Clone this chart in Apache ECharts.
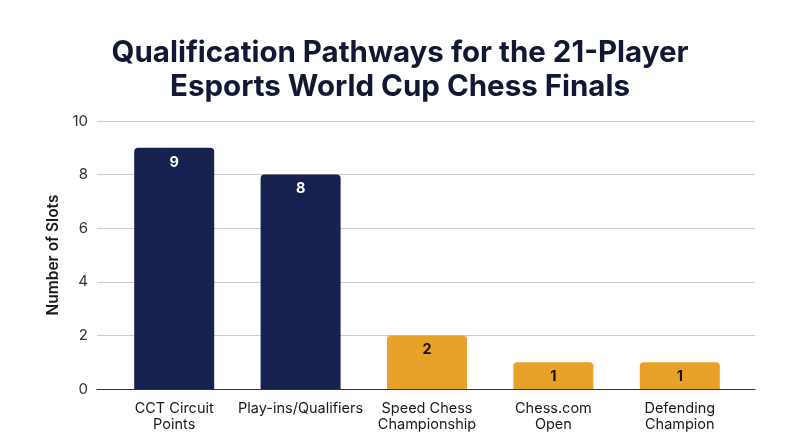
<!DOCTYPE html>
<html><head><meta charset="utf-8">
<script src="https://cdn.jsdelivr.net/npm/echarts@6/dist/echarts.min.js"></script>
<style>html,body{margin:0;padding:0;background:#fff}#c{width:800px;height:447px}</style>
</head><body><div id="c"></div>
<script>
const categories = ["CCT Circuit\nPoints", "Play-ins/Qualifiers", "Speed Chess\nChampionship", "Chess.com\nOpen", "Defending\nChampion"];
const slots = [9, 8, 2, 1, 1];
const pathwayGroup = ["main", "main", "minor", "minor", "minor"];
const yTicks = [0, 2, 4, 6, 8, 10];
const titleText = "Qualification Pathways for the 21-Player\nEsports World Cup Chess Finals";
const yName = "Number of Slots";

const NAVY = "#172150", ORANGE = "#E9A229";
const chart = echarts.init(document.getElementById('c'));
chart.setOption({
  backgroundColor: '#fff',
  animation: false,
  title: {
    text: titleText, left: 'center', top: 31,
    textStyle: { fontFamily: 'Inter', fontWeight: 'bold', fontSize: 29.5, lineHeight: 34, color: '#111833' }
  },
  grid: [
    { left: 97, right: 45, top: 121, bottom: 58 },
    { left: 111, right: 57, top: 121, bottom: 58 }
  ],
  xAxis: [
    { gridIndex: 0, type: 'category', data: [''], axisLine: { lineStyle: { color: '#333', width: 1.2 } },
      axisTick: { show: false }, axisLabel: { show: false } },
    { gridIndex: 1, type: 'category', data: categories,
      axisLine: { show: false }, axisTick: { show: false },
      axisLabel: { interval: 0, margin: 12, fontFamily: 'Inter', fontSize: 14.5, lineHeight: 16, color: '#1a1a1a' } }
  ],
  yAxis: [
    { gridIndex: 0, type: 'value', min: yTicks[0], max: yTicks[yTicks.length - 1], interval: 2,
      name: yName, nameLocation: 'middle', nameGap: 36,
      nameTextStyle: { fontFamily: 'Inter', fontSize: 15.5, fontWeight: 600, color: '#1a1a1a' },
      axisLine: { show: false }, axisTick: { show: false },
      axisLabel: { margin: 9, fontFamily: 'Inter', fontSize: 15, color: '#333' },
      splitLine: { lineStyle: { color: '#cccccc', width: 1.2 } } },
    { gridIndex: 1, type: 'value', min: yTicks[0], max: yTicks[yTicks.length - 1], interval: 2,
      axisLine: { show: false }, axisTick: { show: false }, axisLabel: { show: false }, splitLine: { show: false } }
  ],
  series: [{
    type: 'bar', xAxisIndex: 1, yAxisIndex: 1, barWidth: 80,
    data: slots.map((v, i) => ({
      value: v,
      itemStyle: { color: pathwayGroup[i] === 'main' ? NAVY : ORANGE, borderRadius: [4, 4, 0, 0] },
      label: { color: pathwayGroup[i] === 'main' ? '#ffffff' : '#111111' }
    })),
    label: { show: true, position: 'insideTop', distance: 7, fontFamily: 'Inter', fontWeight: 'bold', fontSize: 14.5 }
  }]
});
</script></body></html>
